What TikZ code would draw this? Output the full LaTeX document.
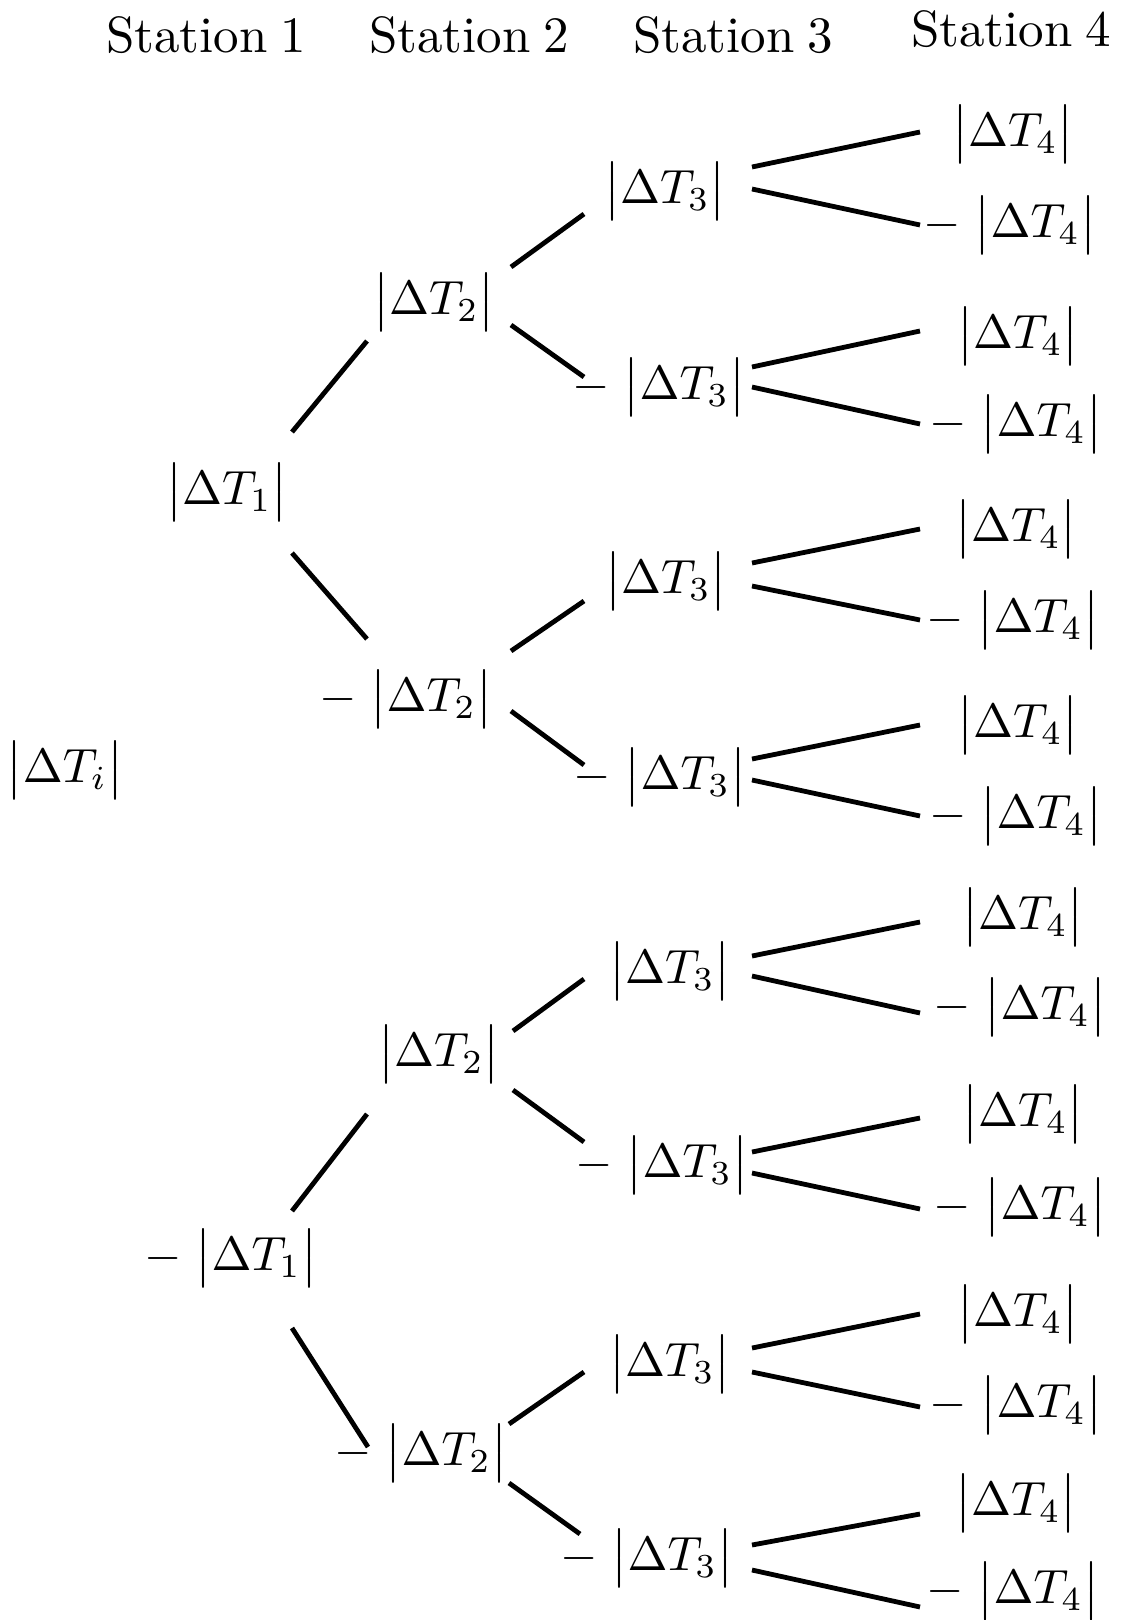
\documentclass[tikz,border=0pt]{standalone}
\usetikzlibrary{calc}
\tikzset{
  val/.style={inner sep=0pt, scale=4.8},
  head/.style={inner sep=0pt, scale=5.1, anchor=base},
  conn/.style={line width=4.8pt, line cap=butt},
}
% value labels |Delta T_k| and -|Delta T_k|
\newcommand\posval[1]{$\bigl|\Delta T_{#1}\bigr|$}
\newcommand\negval[1]{$-\;\bigl|\Delta T_{#1}\bigr|$}
% column heading text
\newcommand\stationlabel[1]{Station\hspace{2.5pt}#1}
% connector from a parent label to a child label: fixed columns, offsets below node centres
\newcommand\joinnodes[6]{\draw[conn] let \p1=(#1), \p2=(#2) in (#3pt,{\y1-(#4pt)}) -- (#5pt,{\y2-(#6pt)});}
\begin{document}
\begin{tikzpicture}[x=1pt,y=-1pt]
\useasboundingbox (0,0) rectangle (1120,1620);
% column headings
\node[head] (s1) at (206,52) {\stationlabel{1}};
\node[head] (s2) at (469,52) {\stationlabel{2}};
\node[head] (s3) at (733,52) {\stationlabel{3}};
\node[head] (s4) at (1011,46) {\stationlabel{4}};
% root
\node[val] (di) at (65,770) {$\bigl|\Delta T_i\bigr|$};
% station 1
\node[val] (d1)  at (227,492)  {\posval{1}};
\node[val] (d1n) at (231,1258) {\negval{1}};
% station 2
\node[val] (b1) at (434,302)  {\posval{2}};
\node[val] (b2) at (406,699)  {\negval{2}};
\node[val] (b3) at (439,1054) {\posval{2}};
\node[val] (b4) at (421,1453) {\negval{2}};
% station 3
\node[val] (c1) at (665,191)  {\posval{3}};
\node[val] (c2) at (659,387)  {\negval{3}};
\node[val] (c3) at (666,581)  {\posval{3}};
\node[val] (c4) at (660,777)  {\negval{3}};
\node[val] (c5) at (670,971)  {\posval{3}};
\node[val] (c6) at (662,1165) {\negval{3}};
\node[val] (c7) at (670,1364) {\posval{3}};
\node[val] (c8) at (647,1558) {\negval{3}};
% station 4
\node[val] (e1)  at (1013,134)  {\posval{4}};
\node[val] (e2)  at (1010,225)  {\negval{4}};
\node[val] (e3)  at (1018,336)  {\posval{4}};
\node[val] (e4)  at (1016,424)  {\negval{4}};
\node[val] (e5)  at (1016,529)  {\posval{4}};
\node[val] (e6)  at (1013,620)  {\negval{4}};
\node[val] (e7)  at (1018,725)  {\posval{4}};
\node[val] (e8)  at (1016,816)  {\negval{4}};
\node[val] (e9)  at (1023,917)  {\posval{4}};
\node[val] (e10) at (1020,1007) {\negval{4}};
\node[val] (e11) at (1023,1114) {\posval{4}};
\node[val] (e12) at (1020,1207) {\negval{4}};
\node[val] (e13) at (1018,1314) {\posval{4}};
\node[val] (e14) at (1016,1405) {\negval{4}};
\node[val] (e15) at (1016,1503) {\posval{4}};
\node[val] (e16) at (1013,1591) {\negval{4}};
% station 1 -> station 2
\joinnodes{d1}{b1}{292}{-60}{367}{39}
\joinnodes{d1}{b2}{292}{61}{367}{-60}
\joinnodes{d1n}{b3}{292}{-47}{367}{60}
\joinnodes{d1n}{b4}{292}{70}{368}{-6}
% station 2 -> station 3
\joinnodes{b1}{c1}{511}{-35}{584}{23}
\joinnodes{b1}{c2}{511}{23}{584}{-10}
\joinnodes{b2}{c3}{511}{-48}{584}{20}
\joinnodes{b2}{c4}{511}{12}{584}{-12}
\joinnodes{b3}{c5}{513}{-23}{584}{8}
\joinnodes{b3}{c6}{513}{36}{584}{-23}
\joinnodes{b4}{c7}{509}{-29}{584}{8}
\joinnodes{b4}{c8}{509}{30}{580}{-24}
% station 3 -> station 4
\joinnodes{c1}{e1}{752}{-24}{920}{-2}
\joinnodes{c1}{e2}{752}{-2}{920}{0}
\joinnodes{c2}{e3}{752}{-20}{920}{-5}
\joinnodes{c2}{e4}{752}{0}{920}{0}
\joinnodes{c3}{e5}{752}{-18}{920}{0}
\joinnodes{c3}{e6}{752}{5}{920}{0}
\joinnodes{c4}{e7}{752}{-18}{920}{0}
\joinnodes{c4}{e8}{752}{3}{920}{0}
\joinnodes{c5}{e9}{752}{-15}{920}{5}
\joinnodes{c5}{e10}{752}{5}{920}{6}
\joinnodes{c6}{e11}{752}{-13}{920}{4}
\joinnodes{c6}{e12}{752}{8}{920}{2}
\joinnodes{c7}{e13}{752}{-16}{920}{0}
\joinnodes{c7}{e14}{752}{8}{920}{2}
\joinnodes{c8}{e15}{752}{-13}{920}{11}
\joinnodes{c8}{e16}{752}{12}{920}{16}
\end{tikzpicture}
\end{document}
